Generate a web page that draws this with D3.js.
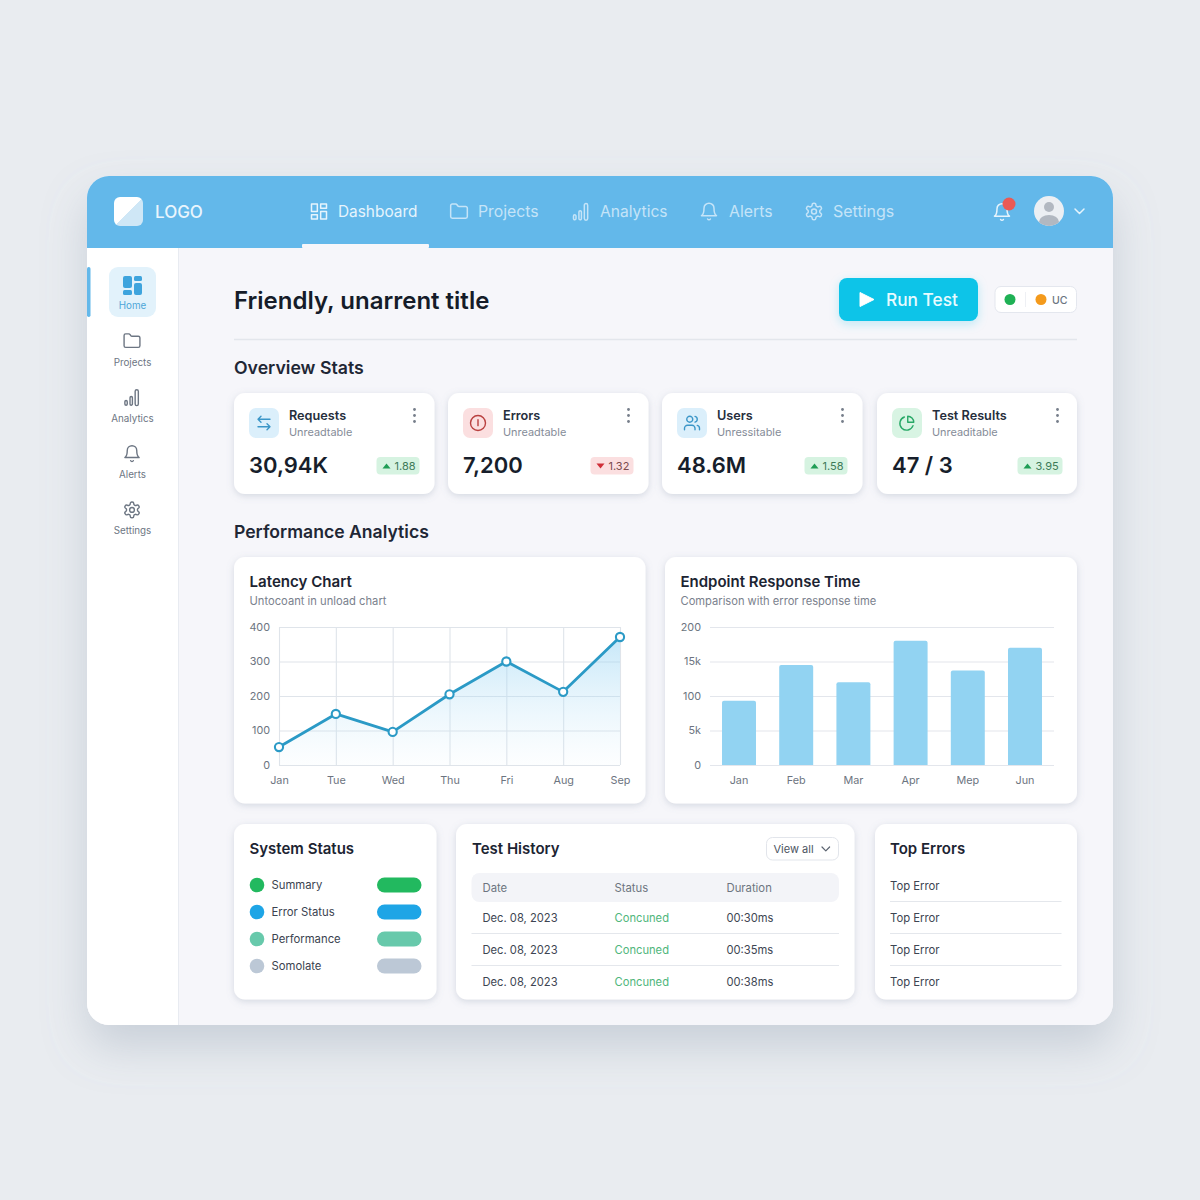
<!DOCTYPE html>
<html><head><meta charset="utf-8">
<script src="https://cdn.jsdelivr.net/npm/d3@7"></script>
<style>
html,body{margin:0;padding:0;background:#e9ecf0}
svg{display:block}
text{font-family:Inter,"Noto Sans",sans-serif}
</style></head><body>
<svg id="c" width="1200" height="1200" viewBox="0 0 1200 1200"></svg>
<script>
const navItems=["Dashboard","Projects","Analytics","Alerts","Settings"];
const sideItems=["Home","Projects","Analytics","Alerts","Settings"];
const statTitles=["Requests","Errors","Users","Test Results"];
const statSubs=["Unreadtable","Unreadtable","Unressitable","Unreaditable"];
const statValues=["30,94K","7,200","48.6M","47 / 3"];
const statDeltas=["1.88","1.32","1.58","3.95"];
const statDirs=["up","down","up","up"];
const latencyDays=["Jan","Tue","Wed","Thu","Fri","Aug","Sep"];
const latencyValues=[52,148,96,205,300,212,371];
const latencyTicks=[0,100,200,300,400];
const endpointMonths=["Jan","Feb","Mar","Apr","Mep","Jun"];
const endpointValues=[93,145,120,180,137,170];
const endpointTicks=[0,50,100,150,200];
const endpointTickLabels=["0","5k","100","15k","200"];
const statusNames=["Summary","Error Status","Performance","Somolate"];
const statusColors=["#22b95f","#1ea5e6","#67c9ab","#bcc8d6"];
const historyHead=["Date","Status","Duration"];
const historyDates=["Dec. 08, 2023","Dec. 08, 2023","Dec. 08, 2023"];
const historyStatus=["Concuned","Concuned","Concuned"];
const historyDur=["00:30ms","00:35ms","00:38ms"];
const topErrors=["Top Error","Top Error","Top Error","Top Error"];

const P={
 folder:"M20 20a2 2 0 0 0 2-2V8a2 2 0 0 0-2-2h-7.9a2 2 0 0 1-1.69-.9L9.6 3.9A2 2 0 0 0 7.93 3H4a2 2 0 0 0-2 2v13a2 2 0 0 0 2 2Z",
 bell:"M6 8a6 6 0 0 1 12 0c0 7 3 9 3 9H3s3-2 3-9M10.3 21a1.94 1.94 0 0 0 3.4 0",
 gear:"M12.22 2h-.44a2 2 0 0 0-2 2v.18a2 2 0 0 1-1 1.73l-.43.25a2 2 0 0 1-2 0l-.15-.08a2 2 0 0 0-2.73.73l-.22.38a2 2 0 0 0 .73 2.73l.15.1a2 2 0 0 1 1 1.72v.51a2 2 0 0 1-1 1.74l-.15.09a2 2 0 0 0-.73 2.73l.22.38a2 2 0 0 0 2.73.73l.15-.08a2 2 0 0 1 2 0l.43.25a2 2 0 0 1 1 1.73V20a2 2 0 0 0 2 2h.44a2 2 0 0 0 2-2v-.18a2 2 0 0 1 1-1.73l.43-.25a2 2 0 0 1 2 0l.15.08a2 2 0 0 0 2.73-.73l.22-.39a2 2 0 0 0-.73-2.73l-.15-.08a2 2 0 0 1-1-1.74v-.5a2 2 0 0 1 1-1.74l.15-.09a2 2 0 0 0 .73-2.73l-.22-.38a2 2 0 0 0-2.73-.73l-.15.08a2 2 0 0 1-2 0l-.43-.25a2 2 0 0 1-1-1.73V4a2 2 0 0 0-2-2zM15 12a3 3 0 1 1-6 0a3 3 0 1 1 6 0z",
 bars:"M3 17.5a1.5 1.5 0 0 1 3 0v3a1.5 1.5 0 0 1-3 0zM9.5 12.5a1.5 1.5 0 0 1 3 0v8a1.5 1.5 0 0 1-3 0zM16 4.5a2 2 0 0 1 4 0v16a2 2 0 0 1-4 0z",
 dash:"M3 3h7v9H3zM14 3h7v5h-7zM14 12h7v9h-7zM3 16h7v5H3z",
 arrows:"M8 3L4 7l4 4M4 7h16M16 13l4 4-4 4M20 17H4",
 info:"M22 12a10 10 0 1 1-20 0a10 10 0 1 1 20 0zM12 7.5v8",
 users:"M16 21v-2a4 4 0 0 0-4-4H6a4 4 0 0 0-4 4v2M13 7a4 4 0 1 1-8 0a4 4 0 1 1 8 0zM22 21v-2a4 4 0 0 0-3-3.87M16 3.13a4 4 0 0 1 0 7.75",
 pie:"M20 15.5A9 9 0 1 1 8.5 4M13 3a8 8 0 0 1 8 8h-8z"
};
const svg=d3.select("#c");
const defs=svg.append("defs");
function shadow(id,dy,blur,color,op){
 const f=defs.append("filter").attr("id",id).attr("x","-40%").attr("y","-40%").attr("width","180%").attr("height","190%");
 f.append("feDropShadow").attr("dx",0).attr("dy",dy).attr("stdDeviation",blur).attr("flood-color",color).attr("flood-opacity",op);
}
shadow("sp",22,22,"#7f8ea3",.30);
shadow("sc",2,3.5,"#7d8aa0",.28);
shadow("sb",3,5,"#17bde6",.25);
const lg=defs.append("linearGradient").attr("id","area").attr("x1",0).attr("x2",0).attr("y1",0).attr("y2",1);
lg.append("stop").attr("offset","0%").attr("stop-color","#8fd0f2").attr("stop-opacity",.5);
lg.append("stop").attr("offset","100%").attr("stop-color","#c4e6f8").attr("stop-opacity",.04);
const hg=defs.append("linearGradient").attr("id","logoG").attr("x1",0).attr("x2",1).attr("y1",0).attr("y2",1);
hg.append("stop").attr("offset","50%").attr("stop-color","#ffffff");
hg.append("stop").attr("offset","50%").attr("stop-color","#cfe7f6");
const clip=defs.append("clipPath").attr("id","panelClip");
clip.append("rect").attr("x",87).attr("y",176).attr("width",1026).attr("height",849).attr("rx",22);
const av=defs.append("clipPath").attr("id","avClip");
av.append("circle").attr("cx",1049).attr("cy",211).attr("r",15);

function T(g,x,y,s,size,fill,weight,anchor){
 return g.append("text").attr("x",x).attr("y",y).text(s).attr("font-size",size).attr("fill",fill)
  .attr("font-weight",weight||400).attr("text-anchor",anchor||"start");
}
function R(g,x,y,w,h,r,fill){return g.append("rect").attr("x",x).attr("y",y).attr("width",w).attr("height",h).attr("rx",r).attr("fill",fill);}
function I(g,key,x,y,size,stroke,sw,fill){
 return g.append("path").attr("d",P[key]).attr("transform",`translate(${x},${y}) scale(${size/24})`)
  .attr("fill",fill||"none").attr("stroke",stroke).attr("stroke-width",sw*24/size)
  .attr("stroke-linecap","round").attr("stroke-linejoin","round");
}
function card(x,y,w,h){return R(svg,x,y,w,h,11,"#fff").attr("filter","url(#sc)");}

// panel
R(svg,87,176,1026,849,22,"#f6f6fa").attr("filter","url(#sp)");
const pn=svg.append("g").attr("clip-path","url(#panelClip)");
R(pn,87,176,1026,849,0,"#f6f6fa");
R(pn,87,248,91,777,0,"#ffffff");
pn.append("line").attr("x1",178.5).attr("x2",178.5).attr("y1",248).attr("y2",1025).attr("stroke","#e8ebf1");
R(pn,87,176,1026,72,0,"#63b8ea");

// header
const hd=svg.append("g");
R(hd,114,197,29,29,6,"url(#logoG)");
T(hd,155,217.5,"LOGO",17,"#e9f5fd",500);
const navX=[338,478,600,729,833];
const navIcon=["dash","folder","bars","bell","gear"];
const navIconX=[309,449,571,699,804];
const navSize=[15.4,15.8,15.6,15.8,16];
navItems.forEach((n,i)=>{
 T(hd,navX[i],216.5,n,navSize[i],i==0?"#e6f4fd":"#c5e4f8",400);
 I(hd,navIcon[i],navIconX[i],201.5,20,i==0?"#e6f4fd":"#c5e4f8",1.5);
});
R(hd,302,244,127,4,1,"#f6f6fa");
I(hd,"bell",992,202,20,"#e6f4fd",1.5);
hd.append("circle").attr("cx",1009).attr("cy",204).attr("r",6.5).attr("fill","#ea5a55");
hd.append("circle").attr("cx",1049).attr("cy",211).attr("r",15).attr("fill","#eceff3");
hd.append("circle").attr("cx",1049).attr("cy",207).attr("r",5).attr("fill","#b2b8c1");
hd.append("ellipse").attr("cx",1049).attr("cy",222).attr("rx",10).attr("ry",7).attr("fill","#b2b8c1").attr("clip-path","url(#avClip)");
hd.append("path").attr("d","M1075 209l4.5 4.5l4.5-4.5").attr("fill","none").attr("stroke","#e6f4fd").attr("stroke-width",1.5).attr("stroke-linecap","round").attr("stroke-linejoin","round");

// sidebar
const sd=svg.append("g");
R(sd,87,267,3.5,50,1.7,"#63b8ea");
R(sd,109,267,47,50,9,"#e2f2fb");
const sideIcon=["dash","folder","bars","bell","gear"];
sideItems.forEach((n,i)=>{
 const cy=341+(i-1)*56.3, ty=365.5+(i-1)*56.3;
 if(i==0){
  R(sd,123,276,9,12,2,"#3ea4dd");R(sd,134,276,8,5,1.5,"#3ea4dd");
  R(sd,134,283,8,12,2,"#3ea4dd");R(sd,123,290,9,5,1.5,"#3ea4dd");
  T(sd,132.5,309,n,9.8,"#4da6d8",400,"middle");
 } else {
  I(sd,sideIcon[i],122.5,cy-9.5,19,"#6d7683",1.4);
  T(sd,132.5,ty,n,9.8,"#6d7683",400,"middle");
 }
});

// title row
const tr=svg.append("g");
T(tr,234,309,"Friendly, unarrent title",24,"#151c29",600);
R(tr,839,278,139,43,8,"#0cc4e8").attr("filter","url(#sb)");
tr.append("path").attr("d","M860 292.5L874 299.5L860 306.5Z").attr("fill","#fff").attr("stroke","#fff").attr("stroke-width",1).attr("stroke-linejoin","round");
T(tr,886,306,"Run Test",17.3,"#e8fbff",500);
R(tr,995,286.5,81.5,26,6,"#fff").attr("stroke","#e4e7ee");
tr.append("circle").attr("cx",1010).attr("cy",299.5).attr("r",5.5).attr("fill","#1fb155");
tr.append("line").attr("x1",1025.5).attr("x2",1025.5).attr("y1",292).attr("y2",307).attr("stroke","#eef0f4");
tr.append("circle").attr("cx",1041).attr("cy",299.5).attr("r",5.5).attr("fill","#f49a1c");
T(tr,1052,303.5,"UC",10.5,"#6b7480",500);
tr.append("line").attr("x1",234).attr("x2",1077).attr("y1",339.5).attr("y2",339.5).attr("stroke","#e3e6ec").attr("stroke-width",1.4);
T(tr,234,374,"Overview Stats",17.7,"#1f2735",600);
T(tr,234,537.5,"Performance Analytics",17.6,"#1f2735",600);

// stat cards
const statX=[234,448,662,877];
const statIconBg=["#dbeffb","#fbdfe0","#dbeffb","#d8f4e3"];
const statIconFg=["#3b96c8","#b9403f","#3b96c8","#27a866"];
const statIcon=["arrows","info","users","pie"];
statTitles.forEach((t,i)=>{
 const x=statX[i];
 card(x,393,i==3?200:200.5,101);
 const g=svg.append("g");
 R(g,x+15,408,30,30,7,statIconBg[i]);
 I(g,statIcon[i],x+21,414,18,statIconFg[i],1.4);
 T(g,x+55,420,t,12.7,"#262e3c",600);
 T(g,x+55,436,statSubs[i],10.9,"#858c98",400);
 [409.5,415.5,421.5].forEach(cy=>g.append("circle").attr("cx",x+180.5).attr("cy",cy).attr("r",1.4).attr("fill","#767e8a"));
 T(g,x+15,473,statValues[i],22,"#171e2b",600);
 const up=statDirs[i]=="up";
 const bw=i==3?45:43;
 const bx=x+185.5-bw;
 R(g,bx,457,bw,17.5,4,up?"#d6f3e1":"#fbdfe0");
 g.append("path").attr("d",up?`M${bx+6} 468.5l4-5l4 5z`:`M${bx+6} 463.5l4 5l4-5z`).attr("fill",up?"#1f9d55":"#cf2f38");
 T(g,bx+18,469.5,statDeltas[i],11,up?"#3d7a58":"#7b4a4d",400);
});

// latency chart
card(234,557,411.5,246.5);
const cg=svg.append("g");
T(cg,249.5,587,"Latency Chart",15.1,"#1c2432",600);
T(cg,249.5,605,"Untocoant in unload chart",11.2,"#7a818d",400);
const xL=d3.scalePoint().domain(latencyDays).range([279,620]);
const yL=d3.scaleLinear().domain([0,400]).range([765,627]);
const areaL=d3.area().x((d,i)=>xL(latencyDays[i])).y0(yL(0)).y1(d=>yL(d));
const lineL=d3.line().x((d,i)=>xL(latencyDays[i])).y(d=>yL(d));
const axL=cg.append("g").attr("transform","translate(279,0)").call(d3.axisLeft(yL).tickValues(latencyTicks).tickSize(-341).tickPadding(9));
const axB=cg.append("g").attr("transform","translate(0,765)").call(d3.axisBottom(xL).tickSize(-138).tickPadding(11));
cg.append("path").attr("d",areaL(latencyValues)).attr("fill","url(#area)");
[axL,axB].forEach(a=>{
 a.select(".domain").remove();
 a.selectAll("line").attr("stroke","#dfe4ea").attr("stroke-width",1.1);
 a.selectAll("text").attr("font-size",10.8).attr("fill","#6c7480").attr("font-family","Inter");
});
cg.append("path").attr("d",lineL(latencyValues)).attr("fill","none").attr("stroke","#2b9ac6").attr("stroke-width",2.8).attr("stroke-linejoin","round");
cg.selectAll("circle.pt").data(latencyValues).join("circle").attr("class","pt")
 .attr("cx",(d,i)=>xL(latencyDays[i])).attr("cy",d=>yL(d)).attr("r",4.1).attr("fill","#fff").attr("stroke","#2b9ac6").attr("stroke-width",2.1);

// endpoint chart
card(665,557,412,246.5);
const bg=svg.append("g");
T(bg,680.5,587,"Endpoint Response Time",15,"#1c2432",600);
T(bg,680.5,605,"Comparison with error response time",11.15,"#7a818d",400);
const xE=d3.scaleBand().domain(endpointMonths).range([710,1054]).paddingInner(.406).paddingOuter(.21);
const yE=d3.scaleLinear().domain([0,200]).range([765,627]);
const axE=bg.append("g").attr("transform","translate(710,0)").call(d3.axisLeft(yE).tickValues(endpointTicks).tickSize(-344).tickPadding(9).tickFormat((d,i)=>endpointTickLabels[i]));
const axF=bg.append("g").attr("transform","translate(0,765)").call(d3.axisBottom(xE).tickSize(0).tickPadding(11));
axE.select(".domain").remove();axF.select(".domain").remove();
axE.selectAll("line").attr("stroke","#e3e6ec").attr("stroke-width",1.2);
[axE,axF].forEach(a=>a.selectAll("text").attr("font-size",10.8).attr("fill","#6c7480").attr("font-family","Inter"));
bg.selectAll("path.bar").data(endpointValues).join("path").attr("class","bar").attr("fill","#92d3f2")
 .attr("d",(d,i)=>{const x=xE(endpointMonths[i]),w=xE.bandwidth(),y=yE(d),b=yE(0),r=2;
  return `M${x} ${b}V${y+r}Q${x} ${y} ${x+r} ${y}H${x+w-r}Q${x+w} ${y} ${x+w} ${y+r}V${b}Z`;});

// system status
card(234,824,202.5,175.5);
const ss=svg.append("g");
T(ss,249.5,854,"System Status",15,"#1c2432",600);
statusNames.forEach((n,i)=>{
 const y=885+i*27;
 ss.append("circle").attr("cx",257).attr("cy",y).attr("r",7.3).attr("fill",statusColors[i]);
 T(ss,271.5,y+4,n,11.3,"#3b4350",400);
 R(ss,377,y-7.5,44.5,15,7.5,statusColors[i]);
});

// test history
card(456,824,398.5,175.5);
const th=svg.append("g");
T(th,472,854,"Test History",15,"#1c2432",600);
R(th,766.5,837.5,72,22.5,6,"#fff").attr("stroke","#e2e5eb");
T(th,773.5,853,"View all",11,"#4c5461",400);
th.append("path").attr("d","M822 847l3.8 3.8l3.8-3.8").attr("fill","none").attr("stroke","#5b6370").attr("stroke-width",1.2).attr("stroke-linecap","round").attr("stroke-linejoin","round");
R(th,471.5,873,367.5,29,8,"#f3f4f8");
const colX=[482.5,614.5,726.5];
historyHead.forEach((h,i)=>T(th,colX[i],891.5,h,11.3,"#6d7480",400));
historyDates.forEach((d,i)=>{
 const y=921.5+i*32;
 T(th,colX[0],y,d,11.2,"#3d4552",400);
 T(th,colX[1],y,historyStatus[i],11.2,"#4fb67b",400);
 T(th,colX[2],y,historyDur[i],11.2,"#3d4552",400);
 if(i<2) th.append("line").attr("x1",471.5).attr("x2",839).attr("y1",933.5+i*32).attr("y2",933.5+i*32).attr("stroke","#e4e7ec").attr("stroke-width",1.2);
});

// top errors
card(875,824,202,175.5);
const te=svg.append("g");
T(te,890,854,"Top Errors",15,"#1c2432",600);
topErrors.forEach((e,i)=>{
 T(te,890,889.5+i*32,e,11.3,"#3d4552",400);
 if(i<3) te.append("line").attr("x1",890).attr("x2",1061.5).attr("y1",901.5+i*32).attr("y2",901.5+i*32).attr("stroke","#e4e7ec").attr("stroke-width",1.2);
});
</script></body></html>
